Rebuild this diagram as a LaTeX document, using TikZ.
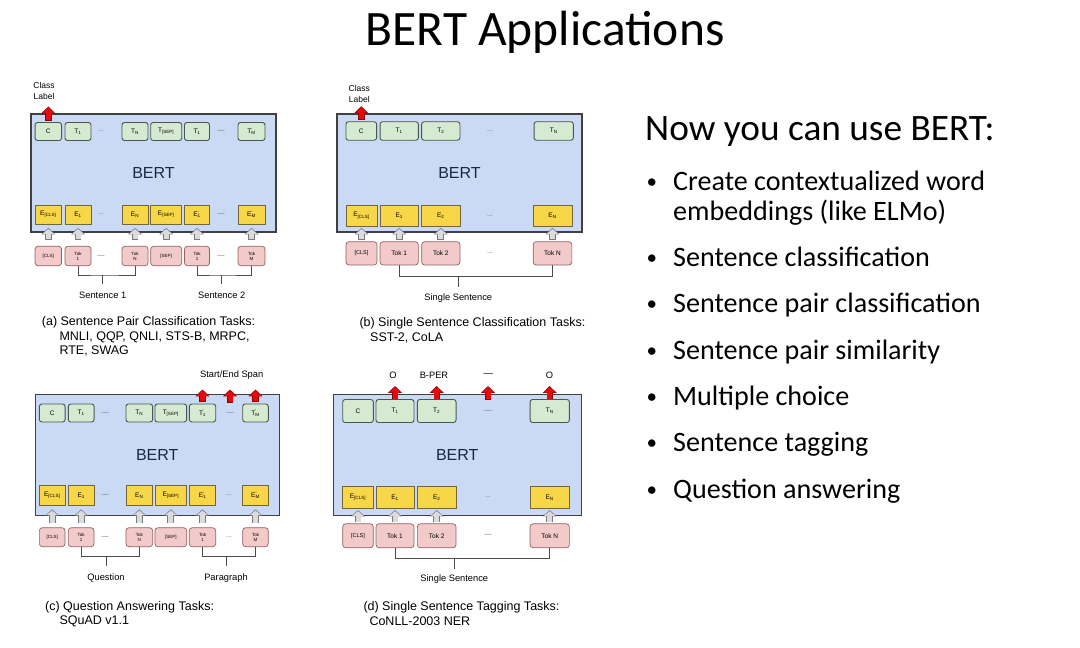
\documentclass[tikz,border=0pt]{standalone}
\usepackage{fontspec}
\setmainfont{Carlito}
\newfontfamily\arialf{Liberation Sans}
\usetikzlibrary{arrows.meta}
\definecolor{bertblue}{RGB}{202,217,244}
\definecolor{bertink}{RGB}{28,38,70}
\definecolor{tgreen}{RGB}{214,234,210}
\definecolor{tborder}{RGB}{70,88,80}
\definecolor{eyellow}{RGB}{247,214,72}
\definecolor{eborder}{RGB}{115,100,60}
\definecolor{ipink}{RGB}{242,202,202}
\definecolor{iborder}{RGB}{150,95,95}
\definecolor{redarr}{RGB}{230,10,10}
\definecolor{redarrdark}{RGB}{140,0,0}
\newcommand\fs[1]{\fontsize{#1}{#1}\selectfont}
\newcommand\prsub[2]{#1\rlap{\textsuperscript{’}}\textsubscript{#2}}
\begin{document}
\begin{tikzpicture}[x=1pt,y=-1pt,
  bertbox/.style={draw=black!75, line width=1.1pt, fill=bertblue, inner sep=0pt, text=bertink, font=\arialf\fs{16}},
  tbox/.style={draw=tborder, line width=0.9pt, fill=tgreen, rounded corners=2.5pt, inner sep=0pt, font=\arialf\fs{6.5}},
  ebox/.style={draw=eborder, line width=0.7pt, fill=eyellow, inner sep=0pt, font=\arialf\fs{6.5}},
  ibox/.style={draw=iborder, line width=0.7pt, fill=ipink, rounded corners=3pt, inner sep=0pt, align=center, font=\arialf\fs{6.5}},
  itiny/.style={ibox, font=\arialf\fontsize{4.5}{5}\selectfont},
  dotsn/.style={font=\arialf\fs{7}, text=black!55, inner sep=0pt},
  lab/.style={font=\arialf\fs{9.3}, inner sep=1pt, align=center},
  clab/.style={font=\arialf\fontsize{8.5}{11.5}\selectfont, inner sep=0pt, align=center},
  capt/.style={font=\arialf\fs{12.5}, anchor=base west, inner sep=0pt},
  brk/.style={draw=black!70, line width=0.7pt},
  uparr/.style 2 args={line width=5pt, draw=black!14, -{Triangle[length=4.8pt,width=10.8pt]},
     shorten <=#1+0.8pt, shorten >=#2+1.1pt,
     preaction={draw=black!52, line width=6.8pt, -{Triangle[length=6.4pt,width=13.4pt]}, shorten <=#1, shorten >=#2}},
  redar/.style={line width=5pt, draw=redarr, -{Triangle[length=5.4pt,width=11pt]},
     shorten <=#1+0.7pt, shorten >=1pt,
     preaction={draw=redarrdark, line width=6.4pt, -{Triangle[length=6.8pt,width=13.4pt]}, shorten <=#1, shorten >=0pt}},
  redar/.default=0pt,
  slide/.style={inner sep=0pt, anchor=base west}
]
\useasboundingbox (0,0) rectangle (1080,648);
\fill[white] (0,0) rectangle (1080,648);

% ---------- title and slide text ----------
\node[inner sep=0pt, anchor=base, font=\fs{49.5}] (title) at (545,45) {BERT Applications};
\node[slide, font=\fs{37.3}] (head) at (645,140.7) {Now you can use BERT:};
\foreach \y/\n in {190.7/1,266/2,312.7/3,359/4,405/5,451.7/6,498/7}
  \node[slide, font=\fs{21}] (bul\n) at (646.5,\y-1.8) {•};
\node[slide, font=\fs{28.1}] (it1a) at (673,190.7) {Create contextualized word};
\node[slide, font=\fs{28.1}] (it1b) at (673,220) {embeddings (like ELMo)};
\node[slide, font=\fs{28.1}] (it2) at (673,266) {Sentence classification};
\node[slide, font=\fs{28.1}] (it3) at (673,312.7) {Sentence pair classification};
\node[slide, font=\fs{28.1}] (it4) at (673,359) {Sentence pair similarity};
\node[slide, font=\fs{28.1}] (it5) at (673,405) {Multiple choice};
\node[slide, font=\fs{28.1}] (it6) at (673,451.7) {Sentence tagging};
\node[slide, font=\fs{28.1}] (it7) at (673,498) {Question answering};

% ---------- panel (a) ----------
\node[bertbox, minimum width=245pt, minimum height=118pt] (a-box) at (153.5,173) {BERT};
\node[tbox, minimum width=26.5pt, minimum height=18pt] (a-t1) at (48.3,131.5) {C};
\node[tbox, minimum width=26pt, minimum height=18pt] (a-t2) at (78,131.5) {T\textsubscript{1}};
\node[dotsn] (a-td1) at (101,131.5) {...};
\node[tbox, minimum width=26pt, minimum height=18pt] (a-t3) at (135,131.5) {T\textsubscript{N}};
\node[tbox, minimum width=31pt, minimum height=18pt] (a-t4) at (166.2,131.5) {T\textsubscript{[SEP]}};
\node[tbox, minimum width=25pt, minimum height=18pt] (a-t5) at (197,131.5) {\prsub{T}{1}};
\node[dotsn] (a-td2) at (221,131.5) {—};
\node[tbox, minimum width=27pt, minimum height=18pt] (a-t6) at (251.5,131.5) {\prsub{T}{M}};
\node[ebox, minimum width=26.5pt, minimum height=19pt] (a-e1) at (48.3,214.5) {E\textsubscript{[CLS]}};
\node[ebox, minimum width=26pt, minimum height=19pt] (a-e2) at (78,214.5) {E\textsubscript{1}};
\node[dotsn] (a-ed1) at (101,214.5) {...};
\node[ebox, minimum width=26pt, minimum height=19pt] (a-e3) at (135,214.5) {E\textsubscript{N}};
\node[ebox, minimum width=31pt, minimum height=19pt] (a-e4) at (166.2,214.5) {E\textsubscript{[SEP]}};
\node[ebox, minimum width=25pt, minimum height=19pt] (a-e5) at (197,214.5) {\prsub{E}{1}};
\node[dotsn] (a-ed2) at (221,214.5) {—};
\node[ebox, minimum width=27pt, minimum height=19pt] (a-e6) at (251.5,214.5) {\prsub{E}{M}};
\node[itiny, minimum width=26.5pt, minimum height=19.5pt] (a-i1) at (48.3,256) {[CLS]};
\node[itiny, minimum width=26pt, minimum height=19.5pt] (a-i2) at (78,256) {Tok\\1};
\node[dotsn] (a-id1) at (101,256) {—};
\node[itiny, minimum width=26pt, minimum height=19.5pt] (a-i3) at (135,256) {Tok\\N};
\node[itiny, minimum width=31pt, minimum height=19.5pt] (a-i4) at (166.2,256) {[SEP]};
\node[itiny, minimum width=25pt, minimum height=19.5pt] (a-i5) at (197,256) {Tok\\1};
\node[dotsn] (a-id2) at (221,256) {—};
\node[itiny, minimum width=27pt, minimum height=19.5pt] (a-i6) at (251.5,256) {Tok\\M};
\foreach \k in {1,...,6} \draw[uparr={6pt}{3.5pt}] (a-i\k.north) -- (a-e\k.south);
\node[clab] (a-cl) at (44,91) {Class\\Label};
\coordinate (a-clt) at (48.3,106.5);
\draw[redar=1.5pt] (a-t1.north) -- (a-clt);
\coordinate (a-b1) at (102.7,275);
\coordinate (a-b2) at (221.7,275);
\node[lab] (a-s1) at (102.7,295.7) {Sentence 1};
\node[lab] (a-s2) at (221.7,295.7) {Sentence 2};
\draw[brk] (a-i2.south) |- (a-b1) -| (a-i3.south);
\draw[brk] (a-i5.south) |- (a-b2) -| (a-i6.south);
\draw[brk, shorten >=7pt] (a-b1) -- (a-s1.north);
\draw[brk, shorten >=7pt] (a-b2) -- (a-s2.north);
\node[capt] (a-c1) at (41.7,325.7) {(a) Sentence Pair Classification Tasks:};
\node[capt] (a-c2) at (59.3,340) {MNLI, QQP, QNLI, STS-B, MRPC,};
\node[capt] (a-c3) at (59.3,354.3) {RTE, SWAG};

% ---------- panel (b) ----------
\node[bertbox, minimum width=245pt, minimum height=118pt] (b-box) at (459.5,173) {BERT};
\node[tbox, minimum width=30.7pt, minimum height=18.5pt] (b-t1) at (361.3,131) {C};
\node[tbox, minimum width=38.3pt, minimum height=18.5pt] (b-t2) at (399.2,131) {T\textsubscript{1}};
\node[tbox, minimum width=38.3pt, minimum height=18.5pt] (b-t3) at (440.8,131) {T\textsubscript{2}};
\node[dotsn] (b-td) at (490,131) {...};
\node[tbox, minimum width=39.3pt, minimum height=18.5pt] (b-t4) at (553.7,131) {T\textsubscript{N}};
\node[ebox, minimum width=31pt, minimum height=21pt] (b-e1) at (361.5,215.8) {E\textsubscript{[CLS]}};
\node[ebox, minimum width=38.3pt, minimum height=21pt] (b-e2) at (399.2,215.8) {E\textsubscript{1}};
\node[ebox, minimum width=38.3pt, minimum height=21pt] (b-e3) at (440.8,215.8) {E\textsubscript{2}};
\node[dotsn] (b-ed) at (490,215.8) {...};
\node[ebox, minimum width=38.7pt, minimum height=21pt] (b-e4) at (552.5,215.8) {E\textsubscript{N}};
\node[ibox, minimum width=31pt, minimum height=23.3pt, font=\arialf\fs{5.5}] (b-i1) at (361.5,253.3) {[CLS]};
\node[ibox, minimum width=38.3pt, minimum height=23.3pt] (b-i2) at (399.2,253.3) {Tok 1};
\node[ibox, minimum width=38.3pt, minimum height=23.3pt] (b-i3) at (440.8,253.3) {Tok 2};
\node[dotsn] (b-id) at (490,253.3) {...};
\node[ibox, minimum width=38.7pt, minimum height=23.3pt] (b-i4) at (552.5,253.3) {Tok N};
\foreach \k in {1,...,4} \draw[uparr={1.2pt}{1.2pt}] (b-i\k.north) -- (b-e\k.south);
\node[clab] (b-cl) at (359.3,94) {Class\\Label};
\coordinate (b-clt) at (361.3,106.2);
\draw[redar=1.3pt] (b-t1.north) -- (b-clt);
\coordinate (b-b1) at (458.3,276.7);
\node[lab] (b-s1) at (458.3,297.7) {Single Sentence};
\draw[brk] (b-i2.south) |- (b-b1) -| (b-i4.south);
\draw[brk, shorten >=5pt] (b-b1) -- (b-s1.north);
\node[capt] (b-c1) at (359.3,326) {(b) Single Sentence Classification Tasks:};
\node[capt] (b-c2) at (370,341) {SST-2, CoLA};

% ---------- panel (c) ----------
\node[bertbox, minimum width=244.3pt, minimum height=120.7pt] (c-box) at (157.2,454.7) {BERT};
\node[tbox, minimum width=25.7pt, minimum height=18pt] (c-t1) at (52.2,413) {C};
\node[tbox, minimum width=25.7pt, minimum height=18pt] (c-t2) at (81.2,413) {T\textsubscript{1}};
\node[dotsn] (c-td1) at (105,413) {—};
\node[tbox, minimum width=26.7pt, minimum height=18pt] (c-t3) at (139.3,413) {T\textsubscript{N}};
\node[tbox, minimum width=31.7pt, minimum height=18pt] (c-t4) at (170.8,413) {T\textsubscript{[SEP]}};
\node[tbox, minimum width=26.4pt, minimum height=18pt] (c-t5) at (202.5,413) {\prsub{T}{1}};
\node[dotsn] (c-td2) at (230,413) {—};
\node[tbox, minimum width=25.6pt, minimum height=18pt] (c-t6) at (255.5,413) {\prsub{T}{M}};
\node[ebox, minimum width=25.7pt, minimum height=19.3pt] (c-e1) at (52.2,495.3) {E\textsubscript{[CLS]}};
\node[ebox, minimum width=25.7pt, minimum height=19.3pt] (c-e2) at (81.2,495.3) {E\textsubscript{1}};
\node[dotsn] (c-ed1) at (105,495.3) {—};
\node[ebox, minimum width=26.7pt, minimum height=19.3pt] (c-e3) at (139.3,495.3) {E\textsubscript{N}};
\node[ebox, minimum width=31.7pt, minimum height=19.3pt] (c-e4) at (170.8,495.3) {E\textsubscript{[SEP]}};
\node[ebox, minimum width=26.4pt, minimum height=19.3pt] (c-e5) at (202.5,495.3) {\prsub{E}{1}};
\node[dotsn] (c-ed2) at (229,495.3) {...};
\node[ebox, minimum width=25.6pt, minimum height=19.3pt] (c-e6) at (255.5,495.3) {\prsub{E}{M}};
\node[itiny, minimum width=25.7pt, minimum height=19pt] (c-i1) at (52.2,537.2) {[CLS]};
\node[itiny, minimum width=25.7pt, minimum height=19pt] (c-i2) at (81.2,537.2) {Tok\\1};
\node[dotsn] (c-id1) at (105,537.2) {—};
\node[itiny, minimum width=26.7pt, minimum height=19pt] (c-i3) at (139.3,537.2) {Tok\\N};
\node[itiny, minimum width=31.7pt, minimum height=19pt] (c-i4) at (170.8,537.2) {[SEP]};
\node[itiny, minimum width=26.4pt, minimum height=19pt] (c-i5) at (202.5,537.2) {Tok\\1};
\node[dotsn] (c-id2) at (229,537.2) {...};
\node[itiny, minimum width=25.6pt, minimum height=19pt] (c-i6) at (255.5,537.2) {Tok\\M};
\foreach \k in {1,...,6} \draw[uparr={4pt}{4pt}] (c-i\k.north) -- (c-e\k.south);
\node[lab] (c-sp) at (231.7,375) {Start/End Span};
\coordinate (c-r1) at (202.5,389.5);
\coordinate (c-r2) at (230,389.5);
\coordinate (c-r3) at (255.5,389.5);
\coordinate (c-q2) at (230,402.5);
\draw[redar=1.8pt] (c-t5.north) -- (c-r1);
\draw[redar] (c-q2) -- (c-r2);
\draw[redar=1.8pt] (c-t6.north) -- (c-r3);
\coordinate (c-b1) at (106,556.7);
\coordinate (c-b2) at (226,556.7);
\node[lab] (c-s1) at (106,578.3) {Question};
\node[lab] (c-s2) at (226,578.3) {Paragraph};
\draw[brk] (c-i2.south) |- (c-b1) -| (c-i3.south);
\draw[brk] (c-i5.south) |- (c-b2) -| (c-i6.south);
\draw[brk, shorten >=7pt] (c-b1) -- (c-s1.north);
\draw[brk, shorten >=7pt] (c-b2) -- (c-s2.north);
\node[capt] (c-c1) at (45,610) {(c) Question Answering Tasks:};
\node[capt] (c-c2) at (59.3,624) {SQuAD v1.1};

% ---------- panel (d) ----------
\node[bertbox, minimum width=247.7pt, minimum height=120.7pt] (d-box) at (457.2,454.7) {BERT};
\node[tbox, minimum width=30.6pt, minimum height=23pt] (d-t1) at (358,411) {C};
\node[tbox, minimum width=38pt, minimum height=23pt] (d-t2) at (395,411) {T\textsubscript{1}};
\node[tbox, minimum width=38.7pt, minimum height=23pt] (d-t3) at (436.7,411) {T\textsubscript{2}};
\node[dotsn] (d-td) at (488,411) {—};
\node[tbox, minimum width=39.3pt, minimum height=23pt] (d-t4) at (549.7,411) {T\textsubscript{N}};
\node[ebox, minimum width=30.6pt, minimum height=22pt] (d-e1) at (358,497.5) {E\textsubscript{[CLS]}};
\node[ebox, minimum width=38pt, minimum height=22pt] (d-e2) at (395,497.5) {E\textsubscript{1}};
\node[ebox, minimum width=38.7pt, minimum height=22pt] (d-e3) at (436.7,497.5) {E\textsubscript{2}};
\node[dotsn] (d-ed) at (488,497.5) {...};
\node[ebox, minimum width=39.3pt, minimum height=22pt] (d-e4) at (549.7,497.5) {E\textsubscript{N}};
\node[ibox, minimum width=30.6pt, minimum height=24pt, font=\arialf\fs{5.5}] (d-i1) at (358,535.8) {[CLS]};
\node[ibox, minimum width=38pt, minimum height=24pt] (d-i2) at (395,535.8) {Tok 1};
\node[ibox, minimum width=38.7pt, minimum height=24pt] (d-i3) at (436.7,535.8) {Tok 2};
\node[dotsn] (d-id) at (488,535.8) {—};
\node[ibox, minimum width=39.3pt, minimum height=24pt] (d-i4) at (549.7,535.8) {Tok N};
\foreach \k in {1,...,4} \draw[uparr={1pt}{1.2pt}] (d-i\k.north) -- (d-e\k.south);
\node[lab] (d-l1) at (393,375) {O};
\node[lab] (d-l2) at (434,375) {B-PER};
\node[lab] (d-l3) at (488.3,375) {—};
\node[lab] (d-l4) at (549.5,375) {O};
\coordinate (d-r1) at (395,386);
\coordinate (d-r2) at (436.7,386);
\coordinate (d-r3) at (488,386);
\coordinate (d-r4) at (549.7,386);
\coordinate (d-q3) at (488,399.5);
\draw[redar=-0.2pt] (d-t2.north) -- (d-r1);
\draw[redar=-0.2pt] (d-t3.north) -- (d-r2);
\draw[redar] (d-q3) -- (d-r3);
\draw[redar=-0.2pt] (d-t4.north) -- (d-r4);
\coordinate (d-b1) at (454.3,558.3);
\node[lab] (d-s1) at (454.3,579.3) {Single Sentence};
\draw[brk] (d-i2.south) |- (d-b1) -| (d-i4.south);
\draw[brk, shorten >=5pt] (d-b1) -- (d-s1.north);
\node[capt] (d-c1) at (363.3,610.7) {(d) Single Sentence Tagging Tasks:};
\node[capt] (d-c2) at (369.3,625) {CoNLL-2003 NER};
\end{tikzpicture}
\end{document}
